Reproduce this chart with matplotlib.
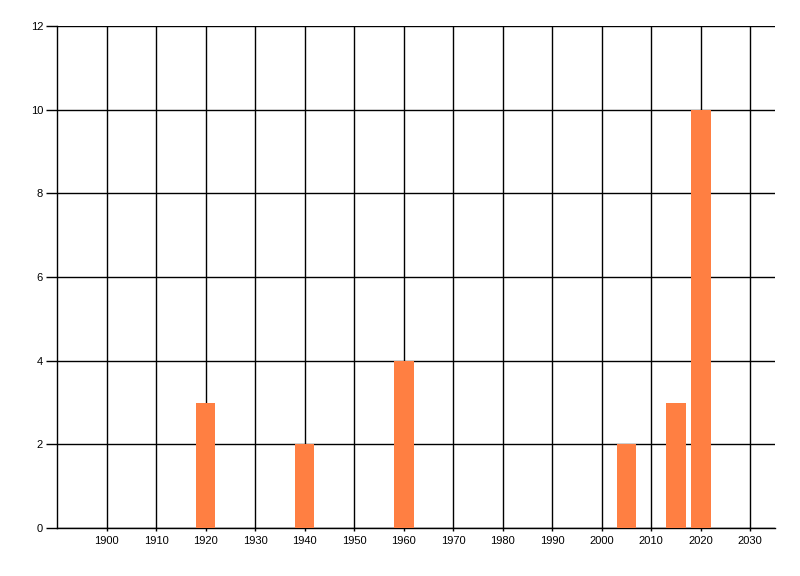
import matplotlib
matplotlib.use("Agg")
import matplotlib.pyplot as plt

years = [1920, 1940, 1960, 2005, 2015, 2020]
counts = [3, 2, 4, 2, 3, 10]
x_ticks = list(range(1900, 2031, 10))
y_ticks = list(range(0, 13, 2))

plt.rcParams['font.family'] = ['Liberation Sans', 'DejaVu Sans']

fig = plt.figure(figsize=(8, 5.76), dpi=100)
ax = fig.add_axes([57/800, 1 - 528/576, (775 - 57)/800, (528 - 26)/576])

ax.bar(years, counts, width=4, color='#FF7F42', zorder=3)

ax.set_xlim(1890, 2035)
ax.set_ylim(0, 12)
ax.set_xticks(x_ticks)
ax.set_yticks(y_ticks)
ax.grid(True, color='black', linewidth=1, zorder=1)

for side in ('top', 'right'):
    ax.spines[side].set_visible(False)
for side in ('left', 'bottom'):
    ax.spines[side].set_linewidth(1)
    ax.spines[side].set_color('black')

ax.tick_params(axis='y', length=8, width=1, labelsize=8, pad=2)
ax.tick_params(axis='x', length=2, width=1, labelsize=8, pad=4)

fig.savefig('out.png', dpi=100)
